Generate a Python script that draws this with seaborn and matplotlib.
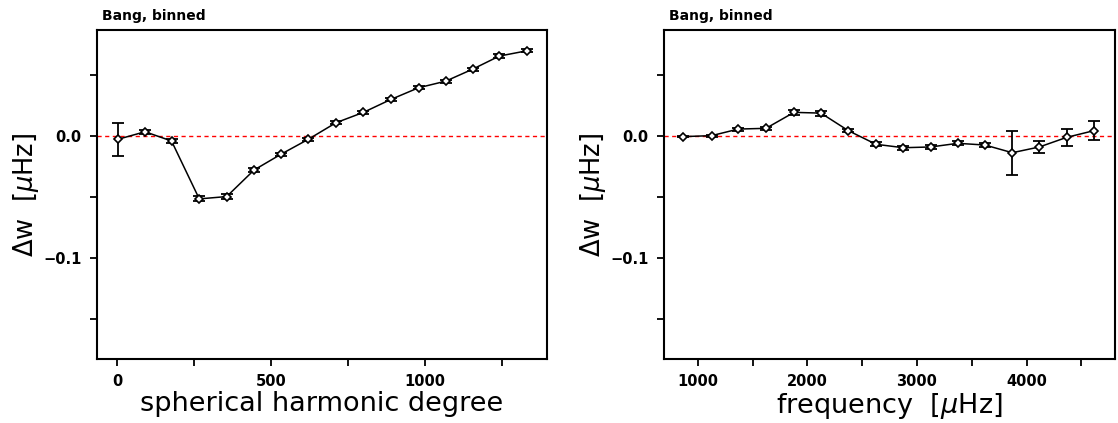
import numpy as np
import pandas as pd
import matplotlib
matplotlib.use("Agg")
import matplotlib.pyplot as plt
import seaborn as sns

# ---- data ----
degree = [3, 91, 177, 267, 356, 445, 532, 621, 711, 800, 889, 979, 1067, 1155, 1241, 1332]
dw_degree = [-0.0027, 0.0035, -0.0041, -0.0516, -0.0497, -0.0279, -0.0150, -0.0027,
             0.0109, 0.0194, 0.0300, 0.0396, 0.0450, 0.0549, 0.0656, 0.0700]
err_degree = [0.0137, 0.0015, 0.0015, 0.0020, 0.0020, 0.0015, 0.0013, 0.0013,
              0.0012, 0.0012, 0.0012, 0.0012, 0.0012, 0.0012, 0.0013, 0.0013]

freq = [866, 1125, 1368, 1621, 1877, 2123, 2373, 2626, 2875, 3125, 3372, 3621,
        3870, 4117, 4367, 4616]
dw_freq = [-0.0005, 0.0003, 0.0057, 0.0063, 0.0194, 0.0188, 0.0044, -0.0068,
           -0.0096, -0.0090, -0.0060, -0.0074, -0.0137, -0.0090, -0.0011, 0.0044]
err_freq = [0.0007, 0.0008, 0.0012, 0.0012, 0.0020, 0.0020, 0.0015, 0.0015,
            0.0015, 0.0015, 0.0015, 0.0018, 0.0182, 0.0048, 0.0068, 0.0078]

title_text = "Bang, binned"
ylabel_text = r"$\Delta$w  [$\mu$Hz]"
xlabel_left = "spherical harmonic degree"
xlabel_right = r"frequency  [$\mu$Hz]"

sns.set_theme(style="white")
plt.rcParams['font.family'] = ['DejaVu Sans']
plt.rcParams['mathtext.fontset'] = 'dejavusans'
plt.rcParams['text.color'] = 'black'
plt.rcParams['axes.labelcolor'] = 'black'
plt.rcParams['xtick.color'] = 'black'
plt.rcParams['ytick.color'] = 'black'

fig = plt.figure(figsize=(11.18, 4.23), dpi=100)
ax1 = fig.add_axes([97 / 1118, 64 / 423, 450 / 1118, 329 / 423])
ax2 = fig.add_axes([664 / 1118, 64 / 423, 451 / 1118, 329 / 423])

panels = [
    (ax1, degree, dw_degree, err_degree, xlabel_left, (-65, 1396), [0, 500, 1000], np.arange(0, 1400, 250)),
    (ax2, freq, dw_freq, err_freq, xlabel_right, (690, 4808), [1000, 2000, 3000, 4000], np.arange(1000, 4800, 500)),
]

for ax, x, y, e, xl, xlim, majors, allticks in panels:
    df = pd.DataFrame({"x": x, "y": y})
    ax.axhline(0, color="red", lw=1.0, ls=(0, (3, 2.5)), zorder=1)
    ax.errorbar(x, y, yerr=e, fmt="none", ecolor="black", elinewidth=1.3,
                capsize=4, capthick=1.3, zorder=2)
    sns.lineplot(data=df, x="x", y="y", ax=ax, color="black", lw=1.1,
                 marker="D", markersize=3.8, markerfacecolor="white",
                 markeredgecolor="black", markeredgewidth=1.2, zorder=3)
    ax.set_xlim(*xlim)
    ax.set_ylim(-0.183, 0.087)
    ax.set_xticks(allticks)
    ax.set_xticklabels([str(int(t)) if int(t) in majors else "" for t in allticks])
    ax.set_yticks([-0.15, -0.1, -0.05, 0.0, 0.05])
    ax.set_yticklabels(["", "\u22120.1", "", "0.0", ""])
    ax.tick_params(axis="both", direction="out", length=5, width=1.3, pad=6,
                   labelsize=10.5, bottom=True, left=True, top=False, right=False)
    for lab in ax.get_xticklabels() + ax.get_yticklabels():
        lab.set_fontweight("bold")
    for sp in ax.spines.values():
        sp.set_linewidth(1.5)
        sp.set_color("black")
    ax.set_xlabel(xl, fontsize=19.5, labelpad=1)
    ax.set_ylabel(ylabel_text, fontsize=18.5, labelpad=2)
    ax.text(0.01, 1.02, title_text, transform=ax.transAxes, fontsize=10,
            fontweight="bold", ha="left", va="bottom")
    ax.grid(False)

fig.savefig("out.png", dpi=100, facecolor="white")
